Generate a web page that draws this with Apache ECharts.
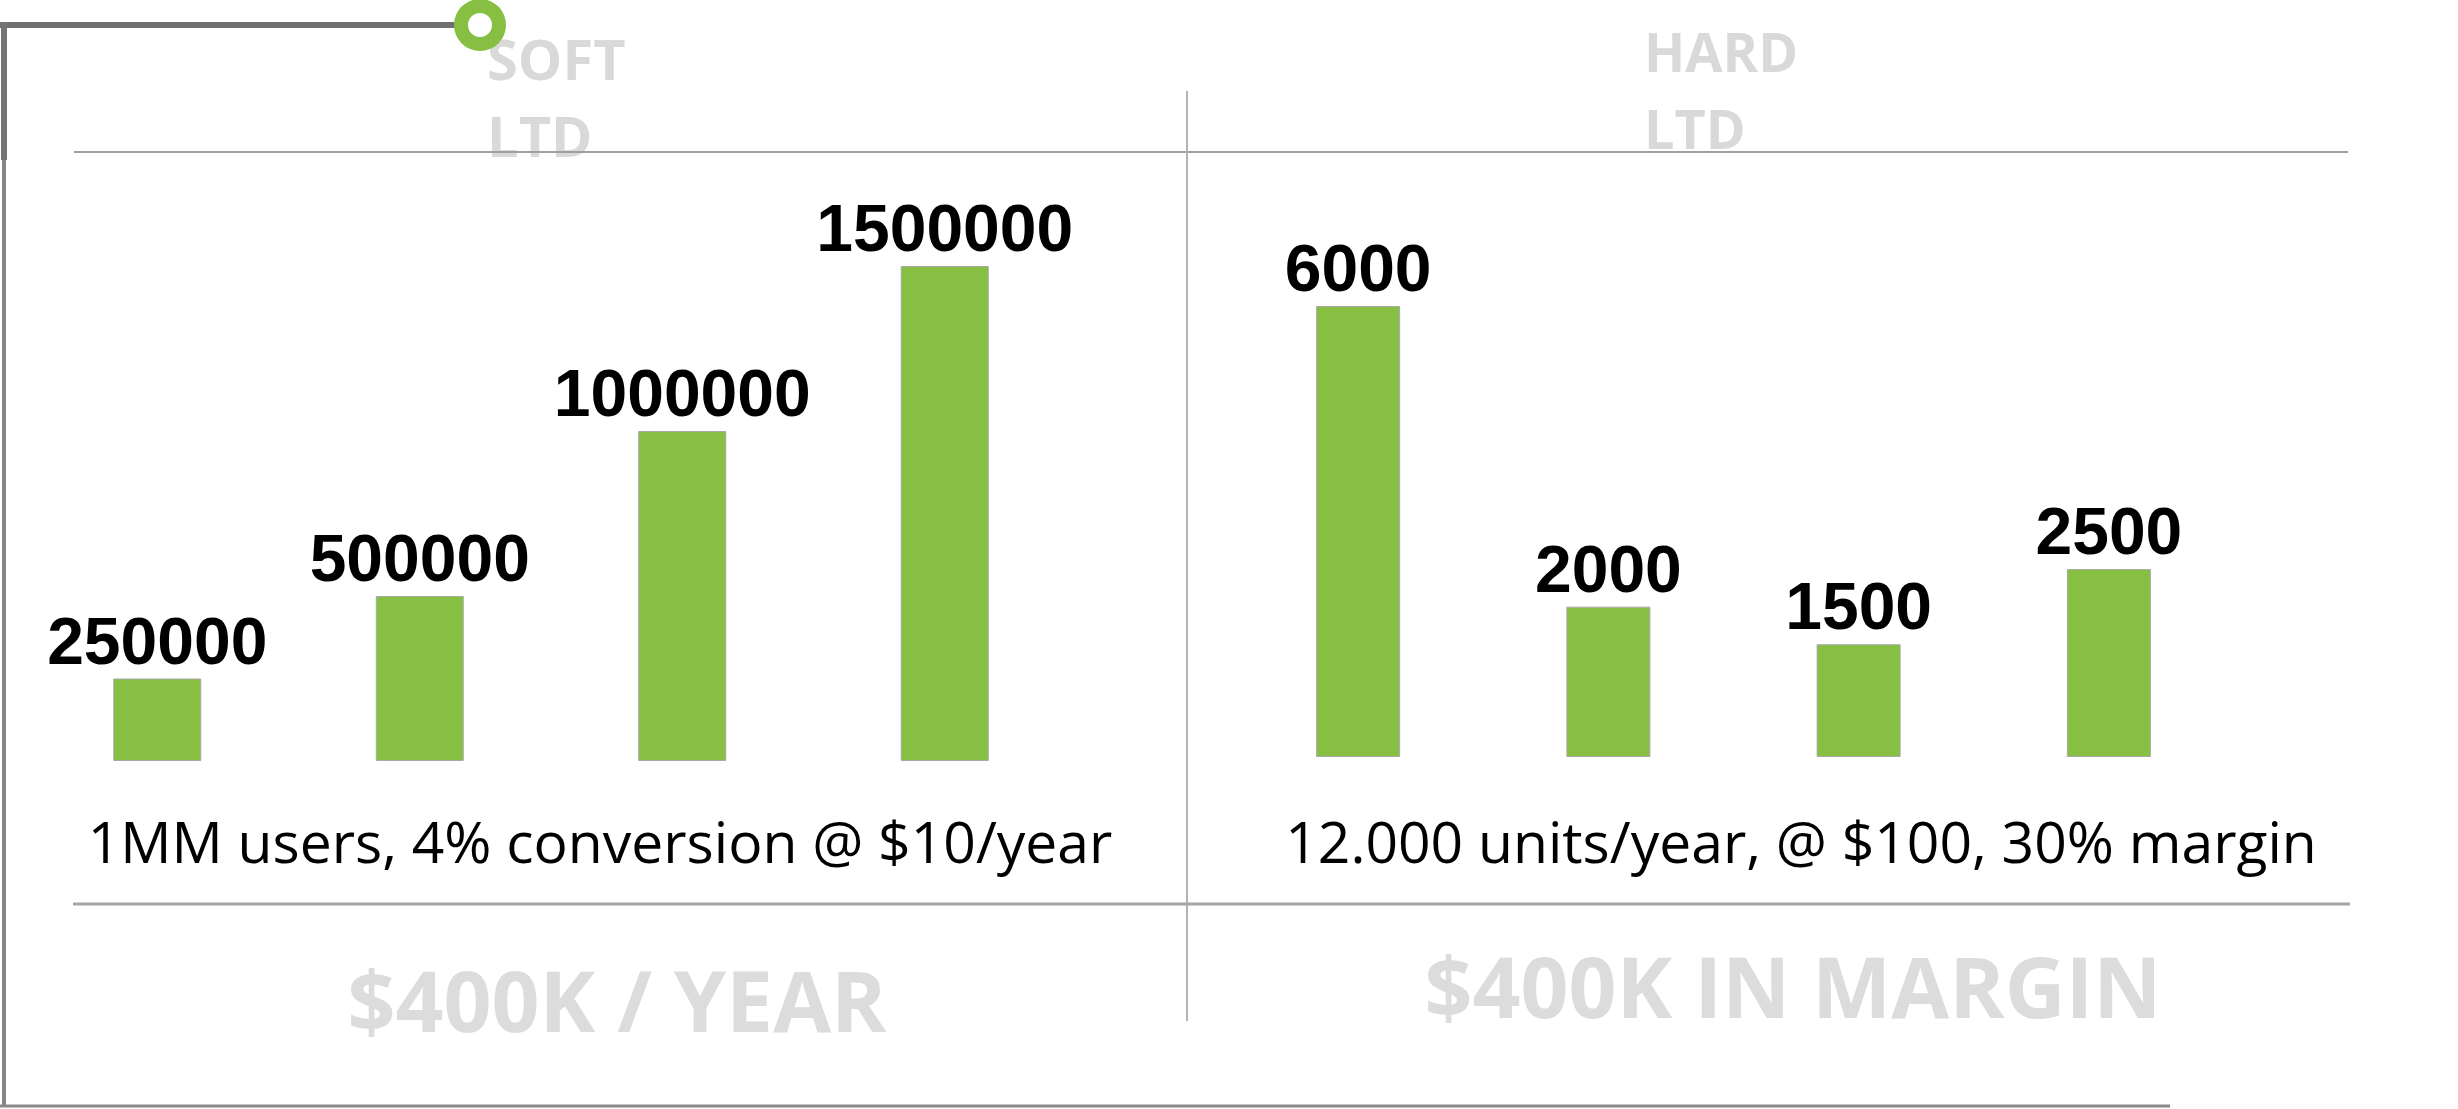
<!DOCTYPE html>
<html>
<head>
<meta charset="utf-8">
<script src="https://cdn.jsdelivr.net/npm/echarts@6/dist/echarts.min.js"></script>
<style>
html,body{margin:0;padding:0;background:#fff;}
#chart{width:2458px;height:1109px;}
</style>
</head>
<body>
<div id="chart"></div>
<script>
// ---- data ----
const softCategories = ['Soft 1', 'Soft 2', 'Soft 3', 'Soft 4'];
const softValues = [250000, 500000, 1000000, 1500000];
const hardCategories = ['Hard 1', 'Hard 2', 'Hard 3', 'Hard 4'];
const hardValues = [6000, 2000, 1500, 2500];
const softTitle = ['SOFT', 'LTD'];
const hardTitle = ['HARD', 'LTD'];
const softCaption = '1MM users, 4% conversion @ $10/year';
const hardCaption = '12.000 units/year, @ $100, 30% margin';
const softTotal = '$400K / YEAR';
const hardTotal = '$400K IN MARGIN';

const GREEN = '#86bf42';
const chart = echarts.init(document.getElementById('chart'), null, {renderer: 'canvas'});

function txt(text, x, y, font, fill, align, z) {
  return {
    type: 'text', z: z || 5,
    style: {
      text: text, x: x, y: y, font: font, fill: fill,
      align: align, textAlign: align,
      verticalAlign: 'middle', textVerticalAlign: 'middle'
    }
  };
}
function line(x1, y1, x2, y2, stroke, w, z) {
  return {type: 'line', z: z || 10, shape: {x1: x1, y1: y1, x2: x2, y2: y2},
          style: {stroke: stroke, lineWidth: w}};
}

const labelStyle = {
  show: true, position: 'top', distance: 0,
  fontFamily: 'Liberation Sans', fontWeight: 'bold', fontSize: 66, color: '#000'
};

const option = {
  animation: false,
  backgroundColor: '#ffffff',
  grid: [
    {left: 26, width: 1050, top: 266, height: 495},
    {left: 1233, width: 1001, top: 306, height: 451}
  ],
  xAxis: [
    {type: 'category', data: softCategories, gridIndex: 0, show: false},
    {type: 'category', data: hardCategories, gridIndex: 1, show: false}
  ],
  yAxis: [
    {type: 'value', gridIndex: 0, min: 0, max: 1500000, show: false},
    {type: 'value', gridIndex: 1, min: 0, max: 6000, show: false}
  ],
  series: [
    {type: 'bar', xAxisIndex: 0, yAxisIndex: 0, data: softValues, barWidth: 88,
     itemStyle: {color: GREEN, borderColor: '#a8a8a8', borderWidth: 1},
     label: labelStyle},
    {type: 'bar', xAxisIndex: 1, yAxisIndex: 1, data: hardValues, barWidth: 84,
     itemStyle: {color: GREEN, borderColor: '#a8a8a8', borderWidth: 1},
     label: labelStyle}
  ],
  graphic: {
    elements: [
      // frame
      line(0, 25, 460, 25, '#707070', 6, 11),
      line(4, 22, 4, 160, '#757575', 6, 11),
      line(4, 160, 4, 1107, '#858585', 4, 11),
      line(0, 1106, 2170, 1106, '#8a8a8a', 3, 11),
      {type: 'ring', z: 12, shape: {cx: 480, cy: 25, r: 26, r0: 12}, style: {fill: GREEN}},
      // dividers
      line(74, 152, 2348, 152, '#a0a0a0', 2),
      line(1187, 91, 1187, 1021, '#b4b4b4', 2),
      line(73, 904, 2350, 904, '#a6a6a6', 3),
      // headers
      txt(softTitle[0], 487, 64, 'bold 56px "Open Sans"', '#d9d9d9', 'left'),
      txt(softTitle[1], 487, 141, 'bold 56px "Open Sans"', '#d9d9d9', 'left'),
      txt(hardTitle[0], 1644, 57, 'bold 54px "Open Sans"', '#d9d9d9', 'left'),
      txt(hardTitle[1], 1644, 134, 'bold 54px "Open Sans"', '#d9d9d9', 'left'),
      // captions
      txt(softCaption, 600, 847, '57px "Open Sans"', '#000000', 'center'),
      txt(hardCaption, 1801, 847, '57px "Open Sans"', '#000000', 'center'),
      // totals
      txt(softTotal, 617, 1008, 'bold 84px "Open Sans"', '#dcdcdc', 'center'),
      txt(hardTotal, 1793, 994, 'bold 84px "Open Sans"', '#dcdcdc', 'center')
    ]
  }
};
chart.setOption(option);
</script>
</body>
</html>
